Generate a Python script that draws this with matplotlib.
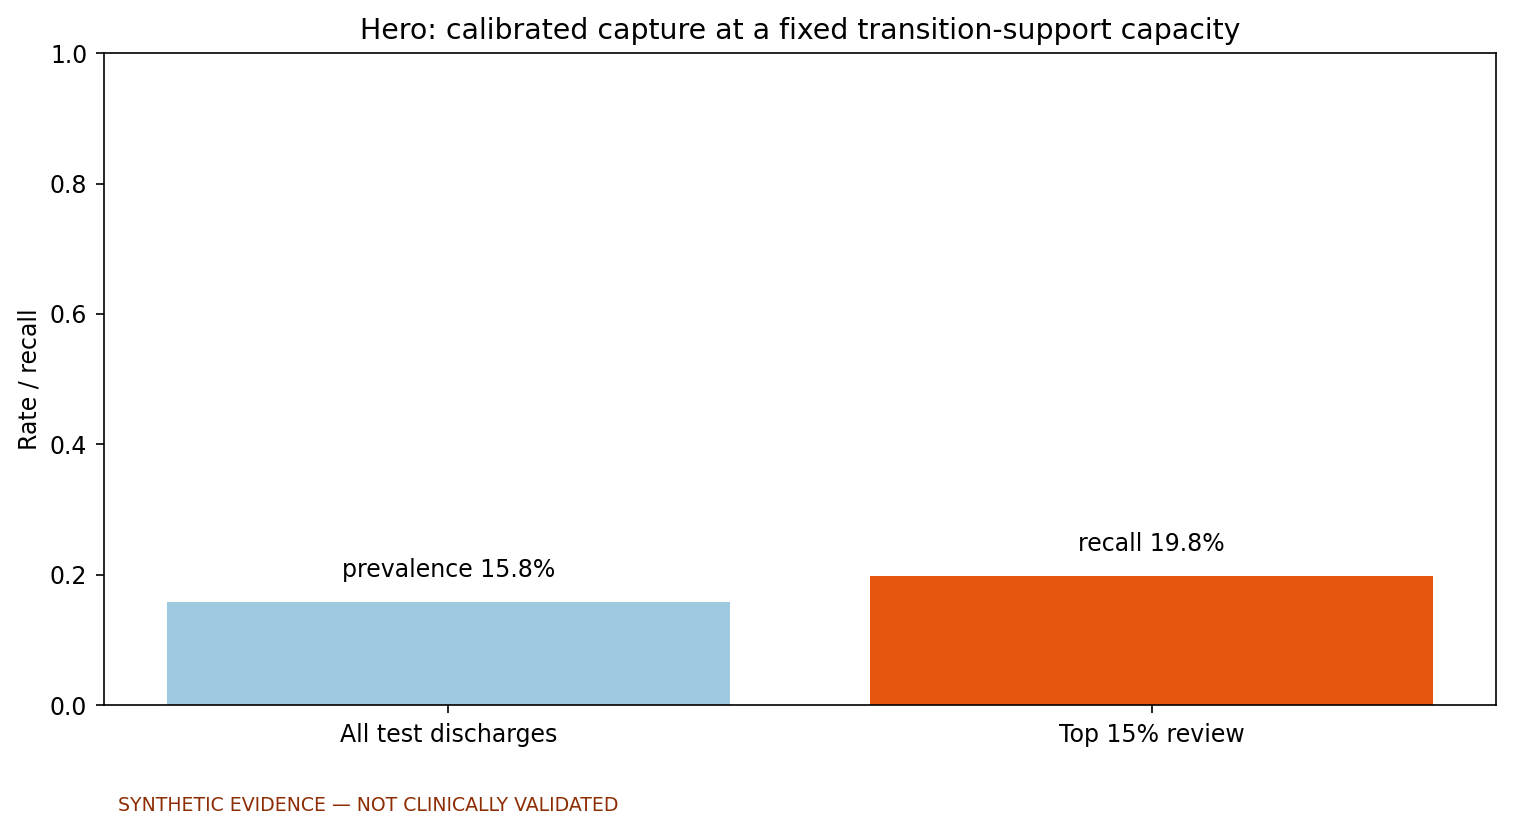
import matplotlib
matplotlib.use("Agg")
import matplotlib.pyplot as plt

# values
categories = ["All test discharges", "Top 15% review"]
values = [0.158, 0.198]
bar_labels = ["prevalence 15.8%", "recall 19.8%"]
colors = ["#9ecae1", "#e6550d"]

plt.rcParams["font.size"] = 11.33
plt.rcParams["xtick.major.size"] = 4
plt.rcParams["xtick.major.pad"] = 4.5
plt.rcParams["ytick.major.size"] = 4
plt.rcParams["ytick.major.pad"] = 4
plt.rcParams["axes.titlepad"] = 7

fig, ax = plt.subplots(figsize=(1513 / 150, 831 / 150), dpi=150)
fig.subplots_adjust(left=0.0687, right=0.9888, top=0.936, bottom=0.1516)

x = range(len(categories))
ax.bar(x, values, color=colors, width=0.8)
for i, v in enumerate(values):
    ax.text(i, v + 0.03, bar_labels[i], ha="center", va="bottom")

ax.set_xticks(list(x))
ax.set_xticklabels(categories)
ax.set_ylim(0, 1.0)
ax.set_ylabel("Rate / recall")
ax.set_title("Hero: calibrated capture at a fixed transition-support capacity", fontsize=13.6)

fig.text(0.078, 0.031, "SYNTHETIC EVIDENCE \u2014 NOT CLINICALLY VALIDATED",
         fontsize=9.07, color="#8c2d04", va="center")

fig.savefig("out.png", dpi=150)
